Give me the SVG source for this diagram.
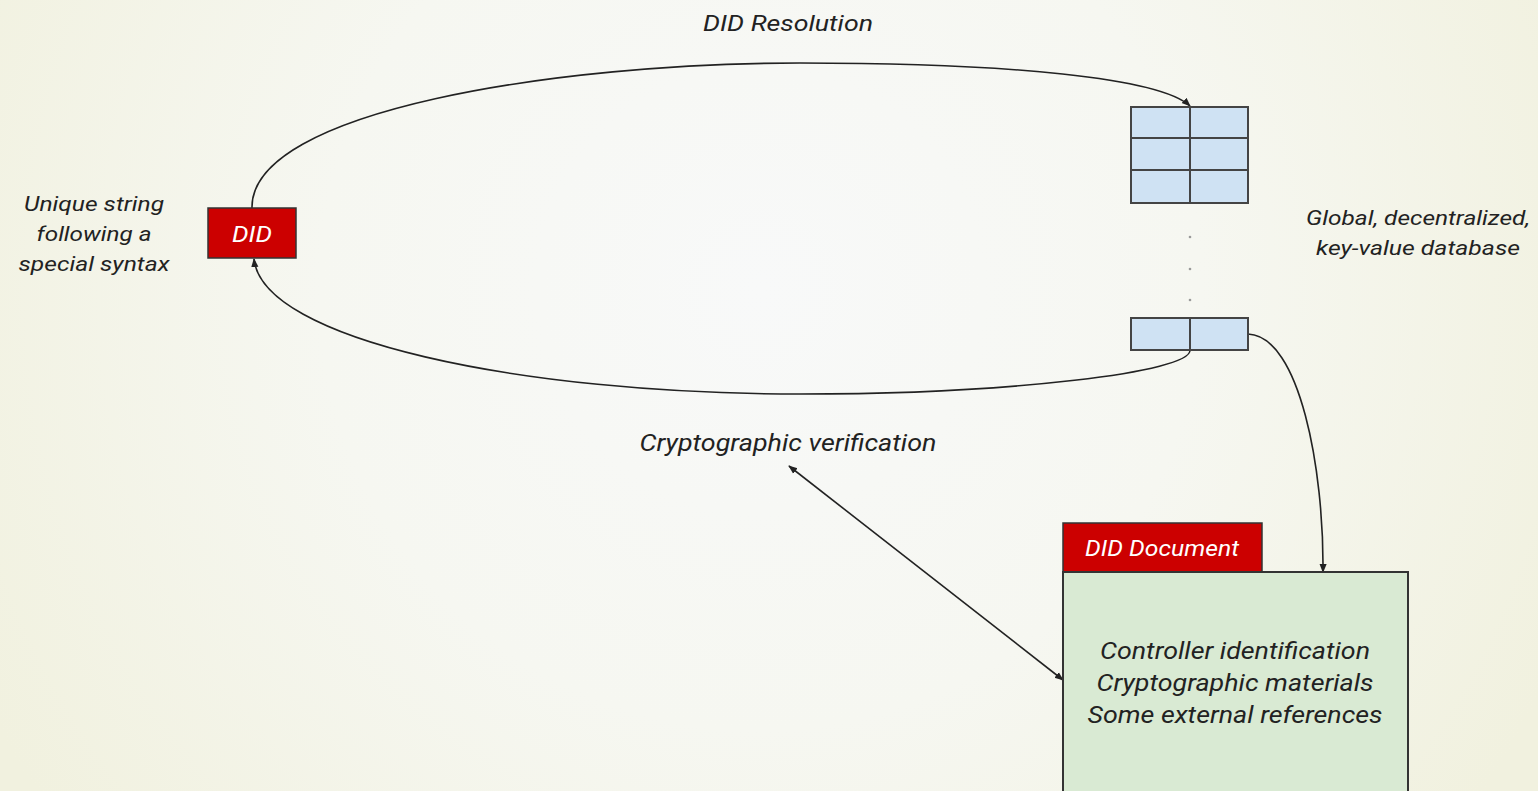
<svg xmlns="http://www.w3.org/2000/svg" width="1538" height="791" viewBox="0 0 1538 791">
  <defs>
    <radialGradient id="bg" cx="760" cy="290" r="880" gradientUnits="userSpaceOnUse">
      <stop offset="0" stop-color="#f8f9f9"/>
      <stop offset="0.5" stop-color="#f6f7f1"/>
      <stop offset="1" stop-color="#f1f1df"/>
    </radialGradient>
    <marker id="arrow" viewBox="0 0 10 10" refX="9" refY="5" markerWidth="9" markerHeight="9" markerUnits="userSpaceOnUse" orient="auto-start-reverse">
      <path d="M0,1 L10,5 L0,9 z" fill="#222"/>
    </marker>
    <style>
      .lbl { font-family: Roboto, "Liberation Sans", sans-serif; font-style: italic; fill: #222; text-anchor: middle; }
      .tag { font-family: Roboto, "Liberation Sans", sans-serif; font-style: italic; fill: #ffffff; text-anchor: middle; }
      .red { fill: #cc0000; stroke: #333; stroke-width: 1.5; }
      .cell { fill: #cfe2f3; stroke: #444; stroke-width: 2; }
      .grid { stroke: #444; stroke-width: 2; }
      .conn { fill: none; stroke: #222; stroke-width: 1.6; }
      .dot { fill: #9a9a9a; }
    </style>
  </defs>

  <rect width="1538" height="791" fill="url(#bg)"/>

  <!-- connectors -->
  <g id="connectors">
    <path class="conn" d="M252,208 C250,110 560,63 800,63 C1010,63 1160,78 1190,106" marker-end="url(#arrow)"/>
    <path class="conn" d="M1190,350 C1192,372 1010,394 800,394 C520,394 262,340 254,259" marker-end="url(#arrow)"/>
    <path class="conn" d="M1248,334 C1300,336 1324,470 1323,572" marker-end="url(#arrow)"/>
    <line class="conn" x1="789" y1="466" x2="1063" y2="680" marker-start="url(#arrow)" marker-end="url(#arrow)"/>
  </g>

  <!-- DID identifier -->
  <g id="did">
    <rect class="red" x="208" y="208" width="88" height="50"/>
    <text class="tag" x="252" y="242" font-size="22" textLength="40" lengthAdjust="spacingAndGlyphs">DID</text>
  </g>
  <g id="did-note">
    <text class="lbl" font-size="21" x="94" y="211" textLength="140" lengthAdjust="spacingAndGlyphs">Unique string</text>
    <text class="lbl" font-size="21" x="94" y="241" textLength="115" lengthAdjust="spacingAndGlyphs">following a</text>
    <text class="lbl" font-size="21" x="94" y="271" textLength="151" lengthAdjust="spacingAndGlyphs">special syntax</text>
  </g>

  <!-- key-value database -->
  <g id="database">
    <rect class="cell" x="1131" y="107" width="117" height="96"/>
    <line class="grid" x1="1131" y1="138" x2="1248" y2="138"/>
    <line class="grid" x1="1131" y1="170" x2="1248" y2="170"/>
    <line class="grid" x1="1190" y1="107" x2="1190" y2="203"/>
    <circle class="dot" cx="1190" cy="237" r="1.3"/>
    <circle class="dot" cx="1190" cy="269" r="1.3"/>
    <circle class="dot" cx="1190" cy="300" r="1.3"/>
    <rect class="cell" x="1131" y="318" width="117" height="32"/>
    <line class="grid" x1="1190" y1="318" x2="1190" y2="350"/>
  </g>
  <g id="database-note">
    <text class="lbl" font-size="21" x="1418" y="225" textLength="224" lengthAdjust="spacingAndGlyphs">Global, decentralized,</text>
    <text class="lbl" font-size="21" x="1418" y="255" textLength="204" lengthAdjust="spacingAndGlyphs">key-value database</text>
  </g>

  <g id="resolution-label">
    <text class="lbl" font-size="22" x="788" y="31" textLength="170" lengthAdjust="spacingAndGlyphs">DID Resolution</text>
  </g>

  <g id="verification-label">
    <text class="lbl" font-size="23" x="788" y="451" textLength="297" lengthAdjust="spacingAndGlyphs">Cryptographic verification</text>
  </g>

  <!-- DID document -->
  <g id="did-document">
    <rect class="red" x="1063" y="523" width="199" height="49"/>
    <text class="tag" x="1162" y="556" font-size="22" textLength="154" lengthAdjust="spacingAndGlyphs">DID Document</text>
    <rect x="1063" y="572" width="345" height="222" fill="#d9ead3" stroke="#333" stroke-width="2"/>
    <text class="lbl" font-size="24" x="1235" y="659" textLength="270" lengthAdjust="spacingAndGlyphs">Controller identification</text>
    <text class="lbl" font-size="24" x="1235" y="691" textLength="277" lengthAdjust="spacingAndGlyphs">Cryptographic materials</text>
    <text class="lbl" font-size="24" x="1235" y="723" textLength="295" lengthAdjust="spacingAndGlyphs">Some external references</text>
  </g>
</svg>
